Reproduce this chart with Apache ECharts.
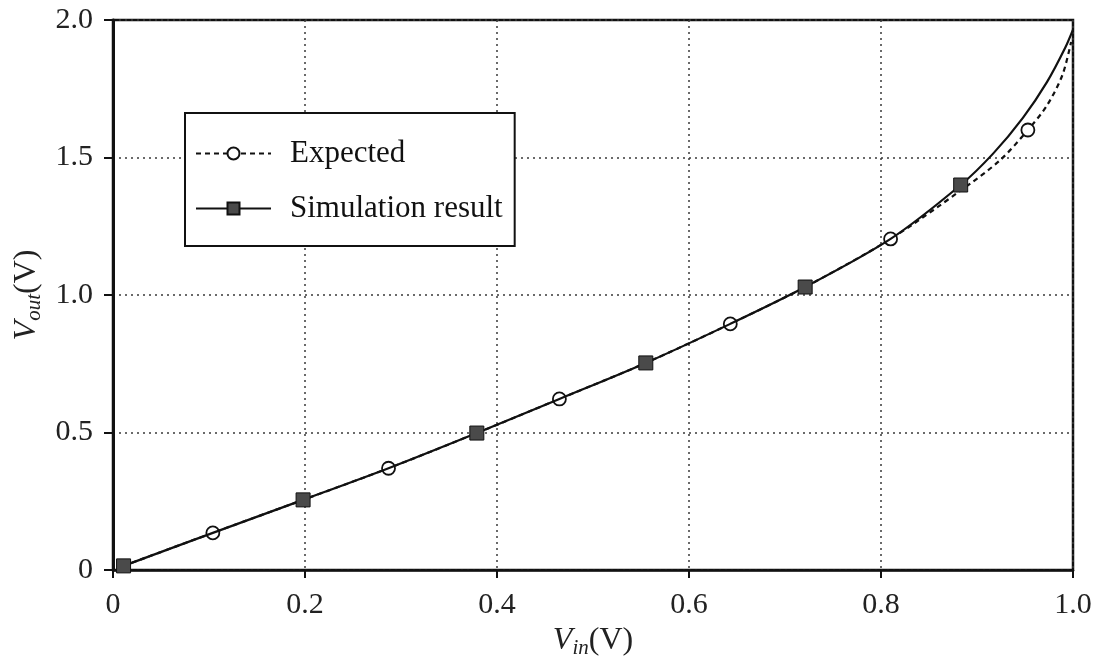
<!DOCTYPE html>
<html>
<head>
<meta charset="utf-8">
<script src="https://cdn.jsdelivr.net/npm/echarts@6/dist/echarts.min.js"></script>
<style>
  html, body { margin: 0; padding: 0; background: #fff; }
  #chart { width: 1101px; height: 666px; }
</style>
</head>
<body>
<div id="chart"></div>
<script>
// Marker points of the simulated transfer curve
const simX = [0.011, 0.198, 0.379, 0.555, 0.721, 0.883];
const simY = [0.015, 0.255, 0.498, 0.753, 1.029, 1.400];
// Upper part of the simulated curve (no markers)
const simTailX = [0.917, 0.948, 0.973, 0.992, 1.000];
const simTailY = [1.515, 1.645, 1.775, 1.900, 1.965];

// Marker points of the expected curve
const expX = [0.104, 0.287, 0.465, 0.643, 0.810, 0.953];
const expY = [0.135, 0.370, 0.622, 0.895, 1.204, 1.600];
// Upper part of the expected curve (no markers)
const expTailX = [0.883, 0.924, 0.973, 0.989, 0.998];
const expTailY = [1.380, 1.490, 1.690, 1.800, 1.920];

// both curves share the same path below this input voltage
const SHARED_UNTIL = 0.85;

const xTicks = [0, 0.2, 0.4, 0.6, 0.8, 1.0];
const yTicks = [0, 0.5, 1.0, 1.5, 2.0];

const FONT = '"Liberation Serif", "DejaVu Serif", serif';
const INK = '#111';

// own markers + the other curve's points on the shared part + own tail
function buildSeriesData(ownX, ownY, otherX, otherY, tailX, tailY) {
  const pts = [];
  ownX.forEach((x, i) => pts.push({ value: [x, ownY[i]] }));
  otherX.forEach((x, i) => {
    if (x < SHARED_UNTIL) pts.push({ value: [x, otherY[i]], symbol: 'none' });
  });
  tailX.forEach((x, i) => pts.push({ value: [x, tailY[i]], symbol: 'none' }));
  pts.sort((a, b) => a.value[0] - b.value[0]);
  return pts;
}

function fmtTick(ticks) {
  return function (v) {
    const hit = ticks.find(t => Math.abs(t - v) < 1e-9);
    if (hit === undefined) return '';
    return hit === 0 ? '0' : hit.toFixed(1);
  };
}

const chart = echarts.init(document.getElementById('chart'), null, { renderer: 'canvas' });

const gridLine = { show: true, lineStyle: { color: '#3a3a3a', width: 1.5, type: [2, 4] } };
const nameRich = {
  i: { fontFamily: FONT, fontSize: 32, fontStyle: 'italic', color: '#222' },
  s: { fontFamily: FONT, fontSize: 21, fontStyle: 'italic', color: '#222', padding: [16, 0, 0, 0] },
  n: { fontFamily: FONT, fontSize: 32, color: '#222' }
};

chart.setOption({
  animation: false,
  backgroundColor: '#fff',
  grid: {
    left: 113, right: 28, top: 20, bottom: 96,
    show: true, borderColor: INK, borderWidth: 2.5, backgroundColor: 'transparent'
  },
  legend: {
    orient: 'vertical',
    left: 185, top: 113,
    padding: [25, 12, 22, 10],
    itemGap: 24,
    itemWidth: 75, itemHeight: 15,
    backgroundColor: '#fff',
    borderColor: INK, borderWidth: 2,
    borderRadius: 0,
    textStyle: { fontFamily: FONT, fontSize: 31, color: INK, padding: [0, 0, 0, 14], lineHeight: 31 },
    data: ['Expected', 'Simulation result']
  },
  xAxis: {
    type: 'value', min: 0, max: 1.0, interval: 0.2,
    name: '{i|V}{s|in}{n|(V)}',
    nameLocation: 'middle', nameGap: 48,
    nameTextStyle: { rich: nameRich },
    axisLine: { show: true, lineStyle: { color: INK, width: 2.5 } },
    axisTick: { show: true, length: 8, lineStyle: { color: INK, width: 2 } },
    axisLabel: { formatter: fmtTick(xTicks), fontFamily: FONT, fontSize: 30, color: '#222', margin: 20 },
    splitLine: gridLine
  },
  yAxis: {
    type: 'value', min: 0, max: 2.0, interval: 0.5,
    name: '{i|V}{s|out}{n|(V)}',
    nameLocation: 'middle', nameGap: 68, nameRotate: 90,
    nameTextStyle: { rich: nameRich },
    axisLine: { show: true, lineStyle: { color: INK, width: 3 } },
    axisTick: { show: true, length: 9, lineStyle: { color: INK, width: 2 } },
    axisLabel: { formatter: fmtTick(yTicks), fontFamily: FONT, fontSize: 30, color: '#222', margin: 20 },
    splitLine: gridLine
  },
  series: [
    {
      name: 'Expected',
      type: 'line',
      data: buildSeriesData(expX, expY, simX, simY, expTailX, expTailY),
      smooth: 0.3,
      symbol: 'circle',
      symbolSize: 13,
      showAllSymbol: true,
      lineStyle: { color: INK, width: 2.2, type: [5, 4] },
      itemStyle: { color: '#fff', borderColor: INK, borderWidth: 1.8 },
      z: 3
    },
    {
      name: 'Simulation result',
      type: 'line',
      data: buildSeriesData(simX, simY, expX, expY, simTailX, simTailY),
      smooth: 0.3,
      symbol: 'rect',
      symbolSize: 14,
      showAllSymbol: true,
      lineStyle: { color: INK, width: 2.2, type: 'solid' },
      itemStyle: { color: '#4a4a4a', borderColor: INK, borderWidth: 1 },
      z: 4
    }
  ]
});
</script>
</body>
</html>
